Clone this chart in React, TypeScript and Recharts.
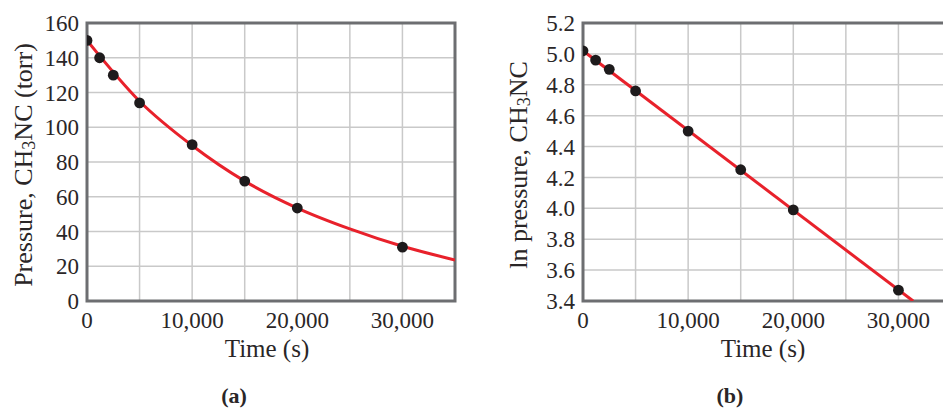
import React from "react";
import {
  ComposedChart,
  Line,
  Scatter,
  XAxis,
  YAxis,
  CartesianGrid,
  ReferenceArea,
  Label,
} from "recharts";

// ---- data ----
const sampleTimes = [0, 1200, 2500, 5000, 10000, 15000, 20000, 30000];
const pressureValues = [150, 140, 130, 114, 90, 69, 53.5, 31];
const lnPressureValues = [5.02, 4.96, 4.9, 4.76, 4.5, 4.25, 3.99, 3.47];

const pressureCurveTimes = [0, 5000, 10000, 15000, 20000, 25000, 30000, 35000];
const pressureCurveValues = [150, 115, 89.5, 69, 53.5, 41.5, 31.5, 23.6];

const lnLineTimes = [0, 31400];
const lnLineValues = [5.02, 3.4];

const timeGridTicks = [0, 5000, 10000, 15000, 20000, 25000, 30000, 35000];
const timeLabelTicks = [0, 10000, 20000, 30000];
const pressureTicks = [0, 20, 40, 60, 80, 100, 120, 140, 160];
const lnTicks = [3.4, 3.6, 3.8, 4.0, 4.2, 4.4, 4.6, 4.8, 5.0, 5.2];

const pressurePoints = sampleTimes.map((t, i) => ({ t, v: pressureValues[i] }));
const lnPoints = sampleTimes.map((t, i) => ({ t, v: lnPressureValues[i] }));
const pressureCurve = pressureCurveTimes.map((t, i) => ({ t, v: pressureCurveValues[i] }));
const lnLine = lnLineTimes.map((t, i) => ({ t, v: lnLineValues[i] }));

const FONT = "'Liberation Serif', 'DejaVu Serif', serif";
const TEXT = "#2a2627";
const RED = "#e8212b";
const FRAME = "#6d6e71";
const GRID = "#c9c9c9";
const DOT = "#1e1b1c";

const fmtTime = (v: number) =>
  timeLabelTicks.includes(v) ? v.toLocaleString("en-US") : "";

type PanelProps = {
  width: number;
  yAxisWidth: number;
  marginRight: number;
  yDomain: [number, number];
  yTicks: number[];
  yFormat: (v: number) => string;
  yLabelPre: string;
  yLabelPost: string;
  yLabelX: number;
  curve: { t: number; v: number }[];
  smooth: boolean;
  points: { t: number; v: number }[];
  panel: string;
};

const Dot = (p: any) => <circle cx={p.cx} cy={p.cy} r={5.4} fill={DOT} />;

function Panel(props: PanelProps) {
  const {
    width,
    yAxisWidth,
    marginRight,
    yDomain,
    yTicks,
    yFormat,
    yLabelPre,
    yLabelPost,
    yLabelX,
    curve,
    smooth,
    points,
    panel,
  } = props;

  const yLabel = (lp: any) => {
    const vb = lp.viewBox || {};
    const cx = (vb.x || 0) + yLabelX;
    const cy = (vb.y || 0) + (vb.height || 0) / 2 + 3;
    return (
      <text
        x={cx}
        y={cy}
        transform={`rotate(-90, ${cx}, ${cy})`}
        textAnchor="middle"
        dominantBaseline="central"
        fontFamily={FONT}
        fontSize={26}
        fill={TEXT}
      >
        <tspan>{yLabelPre}</tspan>
        <tspan fontSize={18} dy={6}>3</tspan>
        <tspan dy={-6}>{yLabelPost}</tspan>
      </text>
    );
  };

  const xLabel = (lp: any) => {
    const vb = lp.viewBox || {};
    const cx = (vb.x || 0) + (vb.width || 0) / 2;
    const y0 = vb.y || 0;
    return (
      <g>
        <text
          x={cx - 4}
          y={y0 + 56}
          textAnchor="middle"
          fontFamily={FONT}
          fontSize={25}
          fill={TEXT}
        >
          Time (s)
        </text>
        <text
          x={cx - 37}
          y={y0 + 102}
          textAnchor="middle"
          fontFamily={FONT}
          fontWeight="bold"
          fontSize={22}
          fill={TEXT}
        >
          {panel}
        </text>
      </g>
    );
  };

  return (
    <ComposedChart
      width={width}
      height={410}
      margin={{ top: 23, right: marginRight, bottom: 0, left: 0 }}
    >
      <CartesianGrid stroke={GRID} strokeWidth={1.5} />
      <XAxis
        type="number"
        dataKey="t"
        domain={[0, 35000]}
        ticks={timeGridTicks}
        tickFormatter={fmtTime}
        interval={0}
        height={109}
        axisLine={false}
        tickLine={false}
        tickSize={6}
        tickMargin={5}
        tick={{ fontFamily: FONT, fontSize: 23, fill: TEXT }}
        allowDataOverflow
      >
        <Label content={xLabel} />
      </XAxis>
      <YAxis
        type="number"
        domain={yDomain}
        ticks={yTicks}
        tickFormatter={yFormat}
        interval={0}
        width={yAxisWidth}
        axisLine={false}
        tickLine={false}
        tick={{ fontFamily: FONT, fontSize: 23, fill: TEXT }}
        allowDataOverflow
      >
        <Label content={yLabel} />
      </YAxis>
      <ReferenceArea
        x1={0}
        x2={35000}
        y1={yDomain[0]}
        y2={yDomain[1]}
        fill="none"
        fillOpacity={0}
        stroke={FRAME}
        strokeWidth={3}
        ifOverflow="visible"
      />
      <Line
        data={curve}
        dataKey="v"
        type={smooth ? "monotone" : "linear"}
        stroke={RED}
        strokeWidth={3}
        dot={false}
        activeDot={false}
        isAnimationActive={false}
      />
      <Scatter
        data={points}
        dataKey="v"
        shape={Dot}
        isAnimationActive={false}
      />
    </ComposedChart>
  );
}

export default function App() {
  return (
    <div
      style={{
        position: "fixed",
        left: 0,
        top: 0,
        width: 943,
        height: 410,
        overflow: "hidden",
        background: "#fff",
      }}
    >
      <div style={{ position: "absolute", left: 0, top: 0 }}>
        <Panel
          width={470}
          yAxisWidth={87}
          marginRight={15}
          yDomain={[0, 160]}
          yTicks={pressureTicks}
          yFormat={(v) => String(v)}
          yLabelPre="Pressure, CH"
          yLabelPost="NC (torr)"
          yLabelX={23}
          curve={pressureCurve}
          smooth
          points={pressurePoints}
          panel="(a)"
        />
      </div>
      <div style={{ position: "absolute", left: 470, top: 0 }}>
        <Panel
          width={500}
          yAxisWidth={113}
          marginRight={19}
          yDomain={[3.4, 5.2]}
          yTicks={lnTicks}
          yFormat={(v) => v.toFixed(1)}
          yLabelPre="ln pressure, CH"
          yLabelPost="NC"
          yLabelX={48}
          curve={lnLine}
          smooth={false}
          points={lnPoints}
          panel="(b)"
        />
      </div>
    </div>
  );
}
